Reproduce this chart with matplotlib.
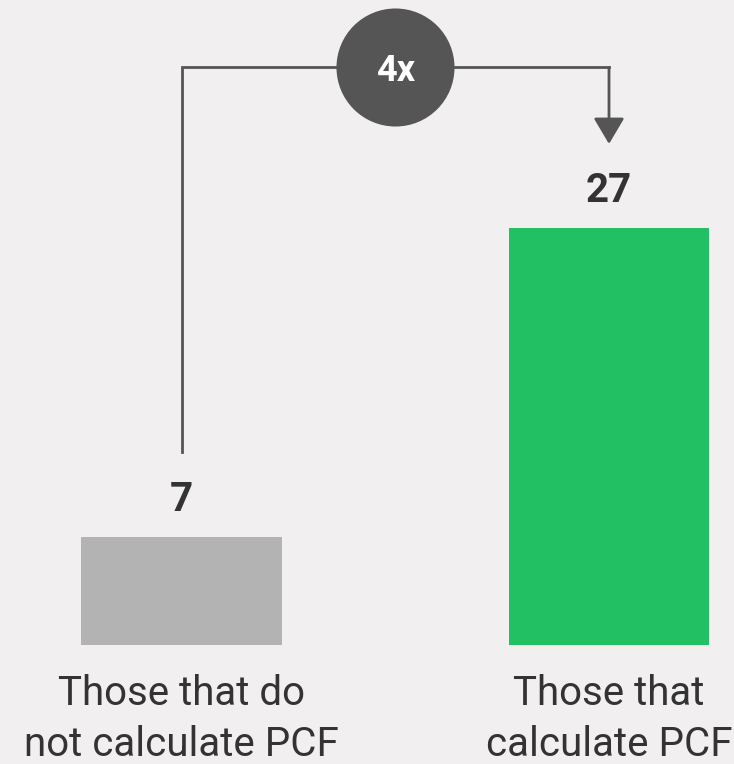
import matplotlib
matplotlib.use("Agg")
import matplotlib.pyplot as plt

# PCF survey: bars and their labels
categories = ["Those that do\nnot calculate PCF", "Those that\ncalculate PCF"]
values = [7, 27]
bar_colors = ["#b3b3b3", "#22c063"]
ratio_label = "4x"

bg = "#f1eff0"
dark = "#555555"
text_col = "#333333"

plt.rcParams["font.family"] = ["Roboto", "DejaVu Sans"]

fig = plt.figure(figsize=(7.34, 7.64), dpi=100, facecolor=bg)
ax = fig.add_axes([0, 0, 1, 1], facecolor=bg)

x = [0, 1]
ax.bar(x, values, width=0.47, color=bar_colors)

# value labels above each bar
for xi, v in zip(x, values):
    ax.annotate(str(v), (xi, v), xytext=(0, 19), textcoords="offset points",
                ha="center", va="baseline", fontsize=29, fontweight="bold",
                color=text_col)

# category labels under the bars
for xi, lab in zip(x, categories):
    ax.annotate(lab, (xi, 0), xytext=(0, -21), textcoords="offset points",
                ha="center", va="top", fontsize=29, color=text_col,
                linespacing=1.38)

# connector from the small bar to the big one
top_y = 37.4
ax.plot([x[0], x[0], x[1]], [values[0] + 5.5, top_y, top_y],
        color=dark, lw=2, solid_joinstyle="miter", zorder=2)
ax.annotate("", xy=(x[1], values[1] + 5.45), xytext=(x[1], top_y),
            arrowprops=dict(arrowstyle="-|>,head_length=16,head_width=9.5",
                            mutation_scale=1, color=dark, lw=2,
                            shrinkA=0, shrinkB=0))

# ratio bubble
ax.plot([0.5], [top_y], marker="o", markersize=85, color=dark,
        markeredgewidth=0, zorder=3)
ax.text(0.5, top_y, ratio_label, ha="center", va="center_baseline",
        fontsize=26, fontweight="bold", color="white", zorder=4)

ax.set_xlim(-0.4246, 1.2924)
ax.set_ylim(-7.707, 41.77)
ax.axis("off")

fig.savefig("out.png", dpi=100, facecolor=bg)
